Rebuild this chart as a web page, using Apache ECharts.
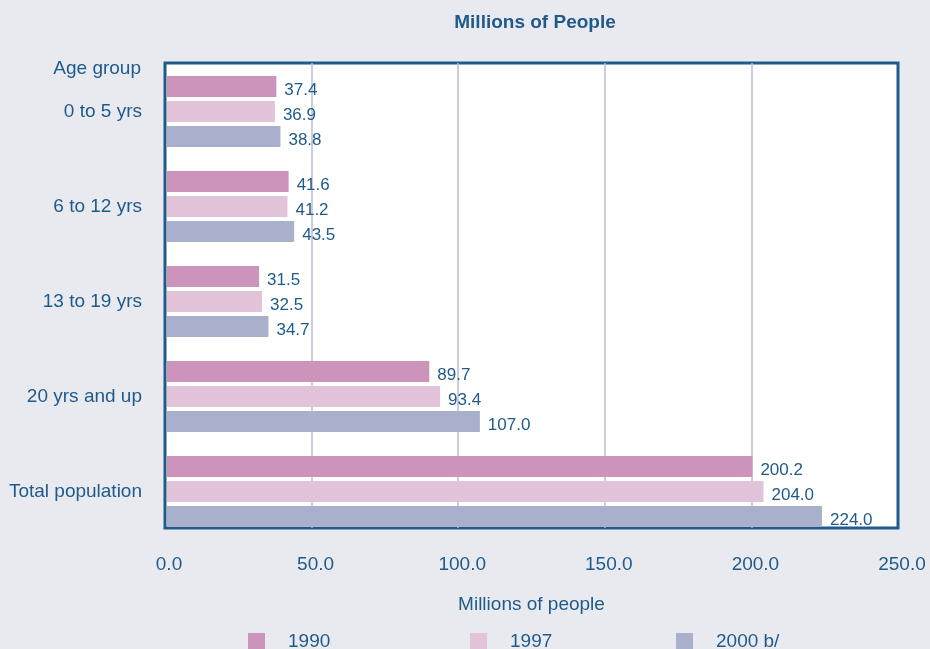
<!DOCTYPE html>
<html>
<head>
<meta charset="utf-8">
<script src="https://cdn.jsdelivr.net/npm/echarts@6/dist/echarts.min.js"></script>
<style>
  html, body { margin: 0; padding: 0; background: #e9eaf0; }
  #chart { width: 930px; height: 649px; }
</style>
</head>
<body>
<div id="chart"></div>
<script>
// Population by age group, in millions
const categories = ['0 to 5 yrs', '6 to 12 yrs', '13 to 19 yrs', '20 yrs and up', 'Total population'];
const seriesNames = ['1990', '1997', '2000 b/'];
const values1990 = [37.4, 41.6, 31.5, 89.7, 200.2];
const values1997 = [36.9, 41.2, 32.5, 93.4, 204.0];
const values2000 = [38.8, 43.5, 34.7, 107.0, 224.0];
const xTicks = [0, 50, 100, 150, 200, 250];

const colors = ['#cc93bb', '#e2c4da', '#a8b0cc'];
const ink = '#1f5a8a';
const font = '"Liberation Sans", Arial, sans-serif';

const chart = echarts.init(document.getElementById('chart'));

function barSeries(name, data, color) {
  return {
    name: name,
    type: 'bar',
    xAxisIndex: 1,
    yAxisIndex: 1,
    data: data,
    barWidth: 21,
    barGap: '19%',
    itemStyle: { color: color },
    label: {
      show: true,
      position: 'right',
      distance: 8,
      offset: [0, 4],
      color: ink,
      fontFamily: font,
      fontSize: 17,
      formatter: p => p.value.toFixed(1)
    }
  };
}

function legendAt(left, name) {
  return {
    data: [name],
    left: left,
    top: 632,
    padding: 0,
    icon: 'rect',
    itemWidth: 17,
    itemHeight: 17,
    selectedMode: false,
    textStyle: { color: ink, fontFamily: font, fontSize: 19, padding: [0, 0, 0, 18] }
  };
}

chart.setOption({
  backgroundColor: '#e9eaf0',
  animation: false,
  title: [
    {
      text: 'Millions of People',
      left: 530,
      top: 8,
      textAlign: 'center',
      textStyle: { color: ink, fontFamily: font, fontWeight: 'bold', fontSize: 19 }
    },
    {
      text: 'Age group',
      right: 784,
      top: 54,
      textStyle: { color: ink, fontFamily: font, fontWeight: 'normal', fontSize: 19 }
    }
  ],
  legend: [
    legendAt(248, seriesNames[0]),
    legendAt(470, seriesNames[1]),
    legendAt(676, seriesNames[2])
  ],
  grid: [
    {
      // framed plot box with the value scale
      left: 165, right: 32, top: 63, bottom: 121,
      show: true,
      backgroundColor: '#ffffff',
      borderColor: ink,
      borderWidth: 3
    },
    {
      // bar layout area, starting just inside the frame
      left: 167, right: 32, top: 64, height: 475
    }
  ],
  xAxis: [
    {
      gridIndex: 0,
      type: 'value',
      min: xTicks[0],
      max: xTicks[xTicks.length - 1],
      interval: xTicks[1] - xTicks[0],
      name: 'Millions of people',
      nameLocation: 'middle',
      nameGap: 67,
      nameTextStyle: { color: ink, fontFamily: font, fontSize: 19 },
      axisLine: { show: false },
      axisTick: { show: false },
      axisLabel: {
        color: ink,
        fontFamily: font,
        fontSize: 19,
        margin: 27,
        padding: [0, 0, 0, 8],
        formatter: v => v.toFixed(1)
      },
      splitLine: {
        show: true,
        showMinLine: false,
        showMaxLine: false,
        lineStyle: { color: '#b9bdd4', width: 1.5 }
      }
    },
    {
      gridIndex: 1,
      type: 'value',
      min: xTicks[0],
      max: xTicks[xTicks.length - 1],
      show: false
    }
  ],
  yAxis: [
    { gridIndex: 0, type: 'value', show: false },
    {
      gridIndex: 1,
      type: 'category',
      inverse: true,
      data: categories,
      axisLine: { show: false },
      axisTick: { show: false },
      splitLine: { show: false },
      axisLabel: { color: ink, fontFamily: font, fontSize: 19, margin: 25 }
    }
  ],
  series: [
    barSeries(seriesNames[0], values1990, colors[0]),
    barSeries(seriesNames[1], values1997, colors[1]),
    barSeries(seriesNames[2], values2000, colors[2])
  ]
});
</script>
</body>
</html>
